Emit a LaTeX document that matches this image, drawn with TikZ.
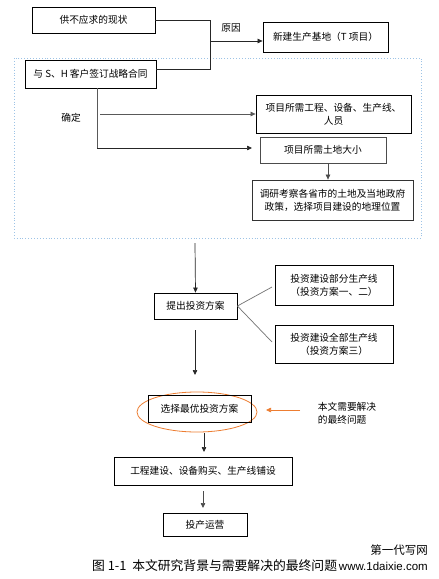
\documentclass[tikz,border=0pt]{standalone}
\usepackage{fontspec}
\newfontfamily\cjk{Noto Sans CJK SC}
\newfontfamily\wmfont{Liberation Sans}
\usetikzlibrary{arrows.meta,shapes.geometric}
\begin{document}
\begin{tikzpicture}[x=1pt,y=-1pt,
  box/.style={draw=black,line width=0.8pt,inner sep=1pt,align=center,font=\cjk\fontsize{9.7}{13}\selectfont},
  lbl/.style={inner sep=0pt,font=\cjk\fontsize{9.7}{13}\selectfont},
  conn/.style={line width=0.7pt,draw=black!85},
  arr/.style={conn,-{Triangle[length=5pt,width=4.5pt]}}]
\useasboundingbox (0,0) rectangle (439,579);
\fill[white] (0,0) rectangle (439,579);
% dotted blue frame
\draw[color={rgb,255:red,157;green,195;blue,230},dotted,line width=0.9pt] (14,58) rectangle (421,238);
% boxes
\node[box,minimum width=123pt,minimum height=26pt] (b1) at (93.5,20) {供不应求的现状};
\node[box,minimum width=125pt,minimum height=30pt] (b2) at (325.5,37) {新建生产基地（T 项目）};
\node[box,minimum width=131pt,minimum height=28pt] (b3) at (90.5,74) {与 S、H 客户签订战略合同};
\node[box,minimum width=155pt,minimum height=38pt] (b4) at (333.5,114) {项目所需工程、设备、生产线、\\人员};
\node[box,draw=black!70,minimum width=126pt,minimum height=26pt] (b5) at (323,150) {项目所需土地大小};
\node[box,draw=black!80,minimum width=161pt,minimum height=40pt] (b6) at (332.5,200) {调研考察各省市的土地及当地政府\\政策，选择项目建设的地理位置};
\node[box,minimum width=83pt,minimum height=26pt] (b7) at (195.5,306) {提出投资方案};
\node[box,minimum width=118pt,minimum height=40pt] (b8) at (334,285) {投资建设部分生产线\\（投资方案一、二）};
\node[box,minimum width=118pt,minimum height=38pt] (b9) at (334,344) {投资建设全部生产线\\（投资方案三）};
\node[draw={rgb,255:red,237;green,125;blue,49},line width=0.8pt,ellipse,minimum width=120pt,minimum height=40pt] (el) at (197,412) {};
\node[box,minimum width=103pt,minimum height=27pt] (b10) at (199.5,408.5) {选择最优投资方案};
\node[lbl,align=left] (note) at (347,413) {本文需要解决\\的最终问题};
\node[box,minimum width=178pt,minimum height=28pt] (b11) at (203,471) {工程建设、设备购买、生产线铺设};
\node[box,minimum width=84pt,minimum height=23pt] (b12) at (205,524.5) {投产运营};
% labels
\node[lbl] (yy) at (231,28) {原因};
\node[lbl] (qd) at (71,118) {确定};
\node[inner sep=0pt,font=\cjk\fontsize{12.8}{14}\selectfont,anchor=west] (cap) at (92,566) {图 1-1\ \ 本文研究背景与需要解决的最终问题};
\node[inner sep=0pt,font=\cjk\fontsize{11.5}{13}\selectfont,anchor=east] (wm1) at (428,550) {第一代写网};
\node[inner sep=0pt,font=\wmfont\fontsize{11.5}{13}\selectfont,anchor=east] (wm2) at (428,566) {www.1daixie.com};
% coordinates
\coordinate (j1) at (210,20);
\coordinate (j2) at (210,69);
\coordinate (jm) at (210,41);
\coordinate (v1) at (97,114);
\coordinate (v2) at (97,148);
\coordinate (fb) at (195,243);
\coordinate (t7) at (195,330);
\coordinate (t7e) at (195,375);
\coordinate (p8) at (272,287);
\coordinate (p9) at (272,342);
\coordinate (nA) at (300,410);
\coordinate (nB) at (266,410);
\coordinate (e1) at (204,433);
\coordinate (e2) at (204,452);
\coordinate (f1) at (203,491);
\coordinate (f2) at (203,508);
% connectors
\draw[conn] (b1.east) -- (j1) -- (j2) -- (b3.east |- j2);
\draw[arr] (jm) -- (b2.west |- jm);
\draw[conn,draw=black!65] (b3.south -| v1) -- (v2);
\draw[arr,draw=black!65] (100,114) -- (b4.west |- v1);
\draw[arr] (v2) -- (252,148);
\draw[arr,draw=black!70] (b5.south -| 328,0) -- (b6.north -| 328,0);
\draw[arr] (fb) -- (b7.north);
\draw[conn,draw=black!55] (b7.east) -- (p8);
\draw[conn,draw=black!55] (b7.east) -- (p9);
\draw[arr] (t7) -- (t7e);
\draw[color={rgb,255:red,237;green,125;blue,49},line width=0.7pt,-{Triangle[length=5pt,width=4.5pt]}] (nA) -- (nB);
\draw[arr] (e1) -- (e2);
\draw[arr,draw=black!70] (f1) -- (f2);
\end{tikzpicture}
\end{document}
